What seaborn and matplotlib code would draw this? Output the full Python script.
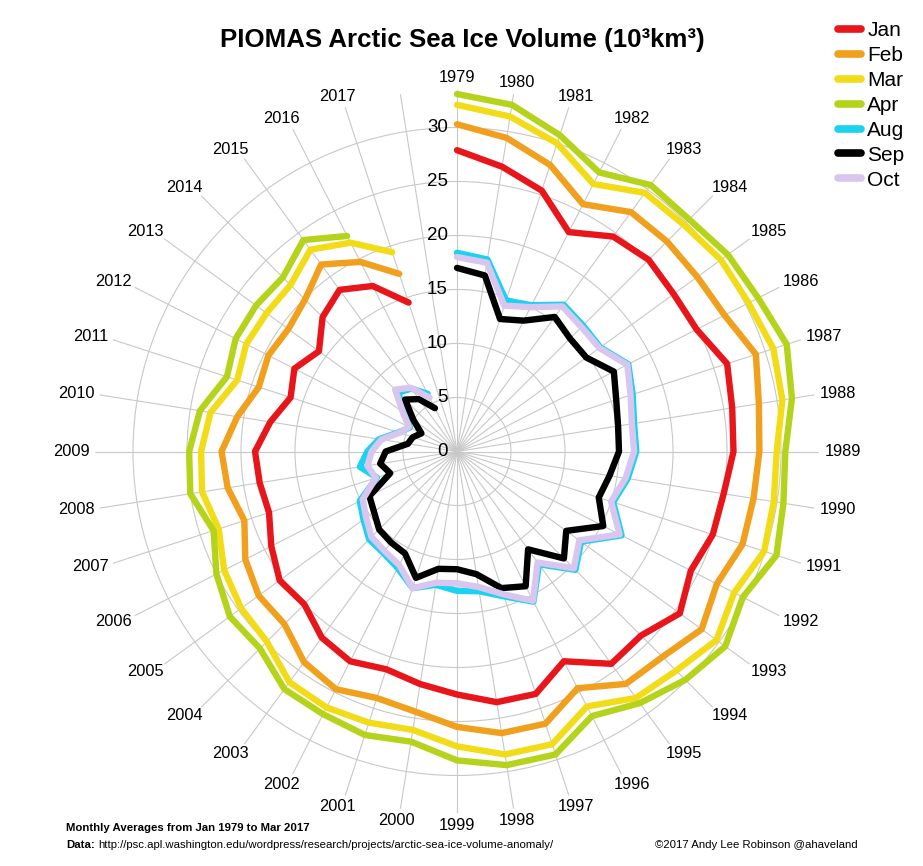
import numpy as np
import pandas as pd
import matplotlib
matplotlib.use("Agg")
import matplotlib.pyplot as plt
import seaborn as sns
from matplotlib.lines import Line2D

# PIOMAS monthly averages, 10^3 km^3
years = list(range(1979, 2018))
n_slots = 40  # one empty spoke after 2017

jan = [27.9, 26.7, 25.4, 22.8, 24.6, 25.1, 24.8, 24.9, 26.3, 25.8,
       25.6, 25.0, 24.9, 24.3, 25.5, 24.1, 24.3, 21.8, 23.6, 23.5,
       22.5, 21.8, 21.2, 21.8, 21.3, 20.0, 20.3, 19.3, 18.3, 18.5,
       18.7, 17.5, 16.2, 16.9, 15.8, 17.6, 18.5, 17.2, 14.5]
feb = [30.3, 29.4, 27.9, 25.7, 27.4, 27.5, 27.5, 27.8, 29.1, 28.3,
       28.0, 27.8, 27.8, 27.0, 28.0, 26.9, 26.6, 24.6, 26.5, 26.4,
       25.5, 24.4, 24.0, 24.7, 24.1, 22.6, 22.7, 22.0, 20.7, 21.5,
       21.8, 20.6, 19.3, 19.6, 19.3, 19.9, 21.4, 19.7, 17.3]
mar = [32.1, 31.4, 30.0, 27.8, 29.6, 29.7, 30.2, 30.3, 30.8, 30.5,
       29.6, 29.7, 29.9, 28.8, 29.7, 28.7, 28.2, 26.5, 28.5, 28.4,
       27.3, 26.1, 26.4, 26.6, 26.4, 24.9, 24.7, 24.2, 23.2, 23.9,
       23.7, 23.1, 21.4, 21.9, 21.8, 21.8, 23.1, 21.7, 19.4]
apr = [33.1, 32.5, 30.8, 29.0, 30.5, 30.4, 31.0, 31.3, 32.1, 31.4,
       30.4, 30.6, 31.1, 29.7, 30.7, 29.9, 28.8, 27.5, 29.5, 29.4,
       28.6, 27.2, 27.6, 27.3, 27.2, 25.8, 26.0, 25.0, 23.7, 25.0,
       24.8, 24.1, 22.4, 23.0, 23.0, 22.8, 24.2, 22.4]
aug = [18.4, 18.0, 14.7, 15.2, 16.8, 16.5, 16.4, 17.8, 17.1, 16.6,
       16.6, 16.0, 15.2, 17.1, 14.2, 15.5, 12.9, 15.6, 14.1, 13.1,
       12.9, 12.5, 13.3, 12.1, 11.6, 11.5, 10.7, 10.1, 7.8, 9.1,
       8.3, 7.3, 5.7, 4.9, 6.0, 7.7, 7.2, 6.0]
sep = [17.0, 16.5, 12.9, 13.6, 15.4, 14.8, 14.8, 16.3, 15.5, 15.1,
       15.0, 14.3, 13.8, 15.2, 12.5, 14.0, 11.2, 14.0, 13.3, 11.5,
       10.9, 11.0, 12.3, 10.6, 10.4, 10.2, 9.5, 9.1, 6.5, 7.2,
       6.6, 4.6, 4.3, 3.7, 5.0, 6.8, 6.0, 4.5]
oct_ = [18.0, 17.7, 14.2, 15.0, 16.6, 16.3, 16.3, 17.7, 16.9, 16.4,
        16.4, 15.8, 15.0, 16.9, 14.0, 15.3, 12.7, 15.5, 13.9, 12.7,
        12.2, 12.3, 13.3, 11.8, 11.4, 11.2, 10.4, 9.8, 7.9, 8.4,
        7.9, 7.1, 5.6, 5.0, 6.2, 8.1, 7.3, 5.6]

months = ["Jan", "Feb", "Mar", "Apr", "Aug", "Sep", "Oct"]
series = [jan, feb, mar, apr, aug, sep, oct_]
colors = ["#e8161a", "#f0a01c", "#f2dc18", "#b6d31c", "#1ad3ef", "#000000", "#d9c6ef"]
radial_ticks = [0, 5, 10, 15, 20, 25, 30]

rows = []
for m, vals in zip(months, series):
    for yr, v in zip(years, vals):
        rows.append({"month": m, "year": yr, "volume": v})
df = pd.DataFrame(rows)
df["theta"] = np.deg2rad((df["year"] - years[0]) * 360.0 / n_slots)

sns.set_theme(style="white")
plt.rcParams["font.family"] = ["Liberation Sans", "DejaVu Sans"]
plt.rcParams["text.color"] = "black"

fig = plt.figure(figsize=(9.23, 8.66), dpi=100)
ax = fig.add_axes([0.10314, 0.06085, 0.78397, 0.83557], projection="polar")
ax.set_theta_zero_location("N")
ax.set_theta_direction(-1)

sns.lineplot(data=df, x="theta", y="volume", hue="month", hue_order=months,
             palette=dict(zip(months, colors)), linewidth=4.6, sort=False,
             estimator=None, legend=False, ax=ax)
for line in ax.lines:
    line.set_clip_on(False)

ax.set_ylim(0, 33.5)
ax.set_yticks(radial_ticks[1:])
ax.set_yticklabels([])
ax.set_xticks(np.deg2rad(np.arange(n_slots) * 360.0 / n_slots))
ax.set_xticklabels([])
ax.grid(True, color="#c8c8c8", linewidth=0.8)
ax.set_axisbelow(True)
ax.spines["polar"].set_visible(False)
ax.set_xlabel("")
ax.set_ylabel("")

for v in radial_ticks:
    ax.annotate(str(v), xy=(0, v), xytext=(-6.5, 0), textcoords="offset points",
                ha="right", va="center", fontsize=13.5, color="black")

for i, yr in enumerate(years):
    th = np.deg2rad(i * 360.0 / n_slots)
    ax.annotate(str(yr), xy=(th, 34.0),
                xytext=(13.3 * np.sin(th), 4.7 * np.cos(th)), textcoords="offset points",
                ha="center", va="center", fontsize=11.8, color="black",
                annotation_clip=False)

fig.text(462 / 923, 1 - 40 / 866, "PIOMAS Arctic Sea Ice Volume (10³km³)",
         ha="center", va="center", fontsize=18.6, fontweight="bold", color="black")

handles = [Line2D([0], [0], color=c, lw=5.5, solid_capstyle="round") for c in colors]
fig.legend(handles, months, loc="upper left", bbox_to_anchor=(838 / 923, 1 - 21.5 / 866),
           frameon=False, fontsize=15, handlelength=1.1, handletextpad=0.3,
           labelspacing=0.28, borderpad=0, borderaxespad=0)

narrow = ["Liberation Sans Narrow", "Liberation Sans", "DejaVu Sans"]
fig.text(66 / 923, 1 - 828 / 866, "Monthly Averages from Jan 1979 to Mar 2017",
         ha="left", va="center", fontsize=8.2, fontweight="bold", family=narrow)
fig.text(66 / 923, 1 - 845 / 866, "Data:", ha="left", va="center",
         fontsize=8.2, fontweight="bold", family=narrow)
fig.text(98 / 923, 1 - 845 / 866,
         "http://psc.apl.washington.edu/wordpress/research/projects/arctic-sea-ice-volume-anomaly/",
         ha="left", va="center", fontsize=8.2, family=narrow)
fig.text(858 / 923, 1 - 845 / 866, "©2017 Andy Lee Robinson @ahaveland",
         ha="right", va="center", fontsize=8.2, family=narrow)

fig.savefig("out.png", dpi=100, facecolor="white")
